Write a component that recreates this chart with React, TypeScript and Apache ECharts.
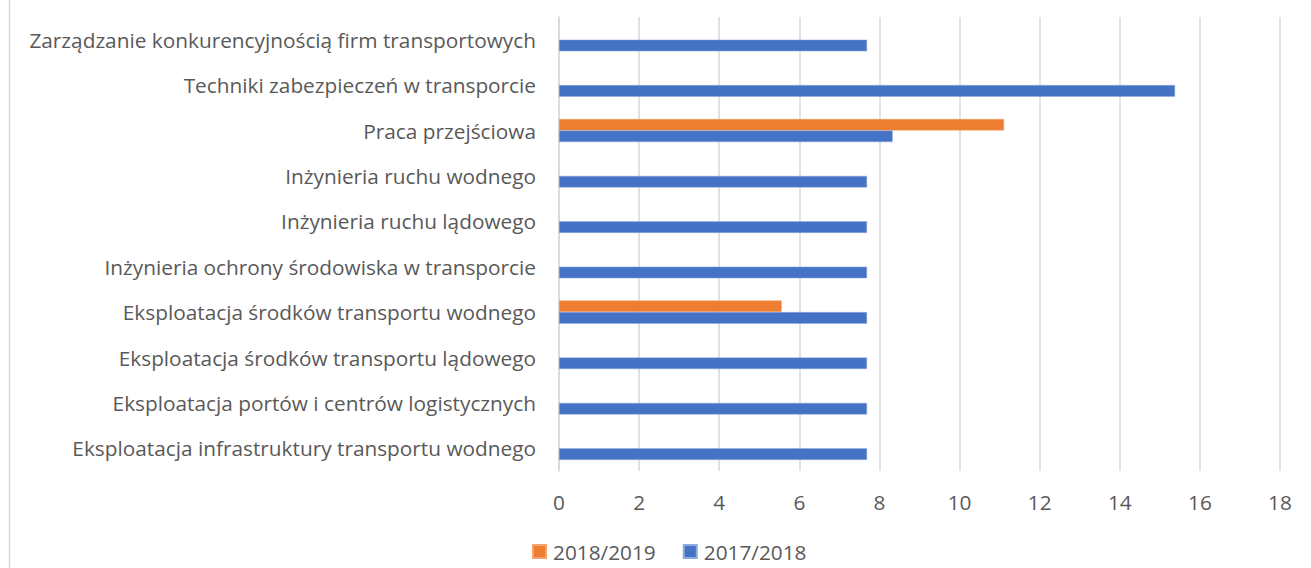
import React, { useEffect, useRef } from "react";
import * as echarts from "echarts";

const categories = [
  "Zarządzanie konkurencyjnością firm transportowych",
  "Techniki zabezpieczeń w transporcie",
  "Praca przejściowa",
  "Inżynieria ruchu wodnego",
  "Inżynieria ruchu lądowego",
  "Inżynieria ochrony środowiska w transporcie",
  "Eksploatacja środków transportu wodnego",
  "Eksploatacja środków transportu lądowego",
  "Eksploatacja portów i centrów logistycznych",
  "Eksploatacja infrastruktury transportu wodnego",
];

const series20172018 = [7.69, 15.38, 8.33, 7.69, 7.69, 7.69, 7.69, 7.69, 7.69, 7.69];
const series20182019 = [null, null, 11.11, null, null, null, 5.56, null, null, null];

const legendNames = ["2018/2019", "2017/2018"];

const FONT = "'Open Sans', 'Noto Sans', sans-serif";
const TEXT = "#595959";
const GRID = "#D9D9D9";
const FS = 20.8;

export default function App() {
  const ref = useRef<HTMLDivElement>(null);
  useEffect(() => {
    if (!ref.current) return;
    const chart = echarts.init(ref.current, undefined, { renderer: "svg" });
    chart.setOption({
      animation: false,
      backgroundColor: "#ffffff",
      textStyle: { fontFamily: FONT },
      grid: { left: 559, right: 31, top: 17, bottom: 97, containLabel: false },
      graphic: [
        {
          type: "line",
          shape: { x1: 9.5, y1: 0, x2: 9.5, y2: 568 },
          style: { stroke: GRID, lineWidth: 1.5 },
          silent: true,
        },
      ],
      legend: {
        data: legendNames,
        left: 532,
        top: 541,
        padding: 0,
        icon: "rect",
        itemWidth: 13,
        itemHeight: 13,
        itemGap: 27,
        textStyle: { fontSize: FS, color: TEXT, fontFamily: FONT, padding: [0, 0, 0, 2] },
      },
      xAxis: {
        type: "value",
        min: 0,
        max: 18,
        interval: 2,
        axisLine: { show: false },
        axisTick: { show: false },
        splitLine: { show: true, lineStyle: { color: GRID, width: 1.5 } },
        axisLabel: { fontSize: FS, color: TEXT, fontFamily: FONT, margin: 20 },
      },
      yAxis: {
        type: "category",
        inverse: true,
        data: categories,
        axisLine: { show: true, lineStyle: { color: GRID, width: 1.5 } },
        axisTick: { show: false },
        axisLabel: { fontSize: FS, color: TEXT, fontFamily: FONT, margin: 23 },
      },
      series: [
        {
          name: "2018/2019",
          type: "bar",
          data: series20182019,
          barWidth: 11.6,
          barGap: "0%",
          itemStyle: { color: "#ED7D31", borderColor: "#F4A36E", borderWidth: 0.5 },
        },
        {
          name: "2017/2018",
          type: "bar",
          data: series20172018,
          barWidth: 11.6,
          barGap: "0%",
          itemStyle: { color: "#4472C4", borderColor: "#8FAADC", borderWidth: 0.5 },
        },
      ],
    });
    return () => chart.dispose();
  }, []);
  return (
    <div
      ref={ref}
      style={{ position: "fixed", left: 0, top: 0, width: 1311, height: 568, background: "#fff" }}
    />
  );
}
